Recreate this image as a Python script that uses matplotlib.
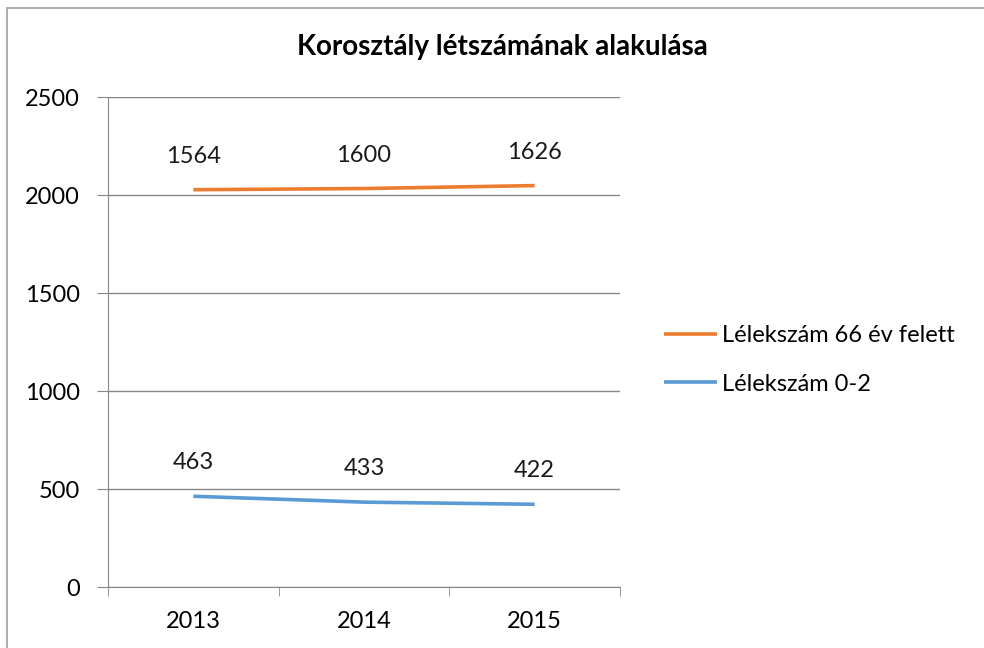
import matplotlib.pyplot as plt
from matplotlib.patches import Rectangle

# adatok
evek = ['2013', '2014', '2015']
lelek_0_2 = [463, 433, 422]
lelek_66 = [1564, 1600, 1626]

plt.rcParams['font.family'] = ['Lato', 'DejaVu Sans']

fig = plt.figure(figsize=(9.84, 6.48), dpi=100)
ax = fig.add_axes([108 / 984, 1 - 587 / 648, 512 / 984, 490 / 648])

# keret a diagram körül
fig.patches.append(Rectangle((7 / 984, -0.05), 1.1, 1 - 8 / 648 + 0.05,
                             transform=fig.transFigure, fill=False,
                             edgecolor='#a0a0a0', linewidth=1.2))

x = list(range(len(evek)))
# halmozott vonal: a felső sor a két érték összege
osszeg = [a + b for a, b in zip(lelek_0_2, lelek_66)]

ax.plot(x, osszeg, color='#ED7D31', linewidth=2.6, label='Lélekszám 66 év felett',
        solid_capstyle='butt')
ax.plot(x, lelek_0_2, color='#5B9BD5', linewidth=2.6, label='Lélekszám 0-2',
        solid_capstyle='butt')

for xi, y, v in zip(x, osszeg, lelek_66):
    ax.annotate(str(v), (xi, y), xytext=(0, 24), textcoords='offset points',
                ha='center', va='center', fontsize=17, color='#1a1a1a')
for xi, y, v in zip(x, lelek_0_2, lelek_0_2):
    ax.annotate(str(v), (xi, y), xytext=(0, 24), textcoords='offset points',
                ha='center', va='center', fontsize=17, color='#1a1a1a')

ax.set_xlim(-0.5, 2.5)
ax.set_ylim(0, 2500)
ax.set_yticks(range(0, 2501, 500))
ax.set_xticks(x)
ax.set_xticklabels(evek)
ax.set_xticks([-0.5, 0.5, 1.5, 2.5], minor=True)
ax.tick_params(axis='x', which='major', length=0, pad=17, labelsize=17)
ax.tick_params(axis='x', which='minor', length=6.5, color='#868686', direction='out')
ax.tick_params(axis='y', length=8, color='#868686', pad=12, labelsize=17)
ax.grid(axis='y', color='#868686', linewidth=1)
ax.set_axisbelow(True)
for s in ['top', 'right']:
    ax.spines[s].set_visible(False)
for s in ['left', 'bottom']:
    ax.spines[s].set_color('#868686')

fig.text(502 / 984, 1 - 47 / 648, 'Korosztály létszámának alakulása',
         ha='center', va='center', fontsize=20, fontweight='bold', color='#000000')

handles, labels = ax.get_legend_handles_labels()
fig.legend(handles, labels, loc='center left', bbox_to_anchor=(643 / 984, 1 - 360 / 648),
           frameon=False, fontsize=17, handlelength=2.25, handletextpad=0.2,
           labelspacing=1.15)

fig.savefig('out.png', dpi=100)
